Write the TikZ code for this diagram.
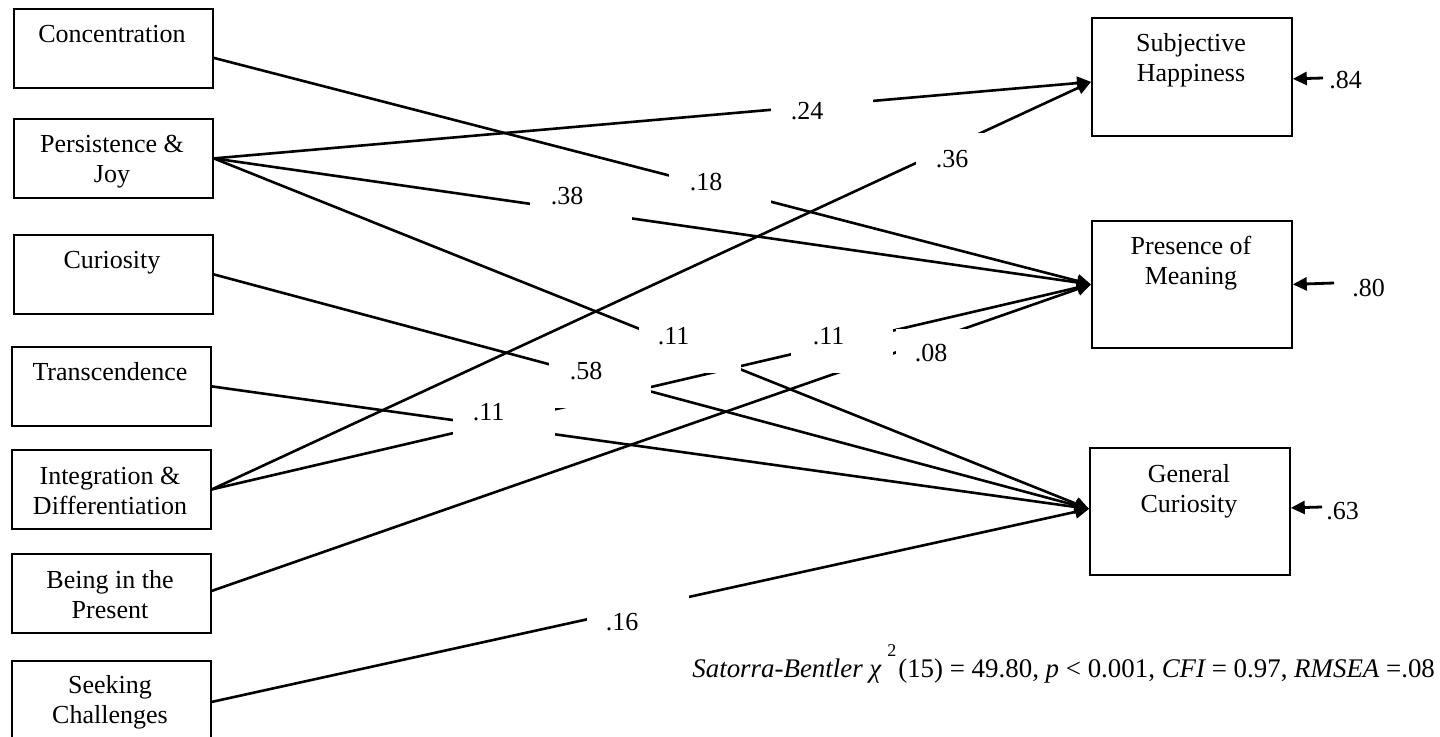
\documentclass[tikz,border=0pt]{standalone}
\usepackage{fontspec}
\setmainfont{Liberation Serif}
\usetikzlibrary{arrows.meta}
\begin{document}
\begin{tikzpicture}[x=0.5pt,y=-0.5pt,
  font=\fontsize{13pt}{15pt}\selectfont,
  varbox/.style={draw, line width=0.9pt, inner sep=0pt, anchor=north west},
  leftbox/.style={varbox, minimum width=99.5pt, minimum height=39.5pt},
  rightbox/.style={varbox, minimum width=100pt},
  vartext/.style={inner sep=0pt, anchor=base},
  path/.style={line width=1.3pt, -{Triangle[length=7pt,width=6.5pt]}},
  errpath/.style={line width=1.4pt, -{Triangle[length=7pt,width=6.5pt]}},
  coefbg/.style={fill=white, inner sep=0pt, minimum width=51pt, minimum height=31.5pt, anchor=north west},
  coeftext/.style={inner sep=0pt, anchor=base west}]
\useasboundingbox (0,0) rectangle (1440,737);

% predictors
\node[leftbox] (conc)  at (13,8)   {};
\node[leftbox] (pers)  at (13,118) {};
\node[leftbox] (cur)   at (13,234) {};
\node[leftbox] (trans) at (11,346) {};
\node[leftbox] (integ) at (11,449) {};
\node[leftbox] (being) at (11,553) {};
\node[leftbox, minimum height=41pt] (seek) at (11,660) {};

\node[vartext] (conc-t)  at (112,43)  {\parbox[t]{95pt}{\centering Concentration}};
\node[vartext] (pers-t)  at (112,153) {\parbox[t]{95pt}{\centering Persistence \&\\ Joy}};
\node[vartext] (cur-t)   at (112,269) {\parbox[t]{95pt}{\centering Curiosity}};
\node[vartext] (trans-t) at (110,381) {\parbox[t]{95pt}{\centering Transcendence}};
\node[vartext] (integ-t) at (110,484) {\parbox[t]{95pt}{\centering Integration \&\\ Differentiation}};
\node[vartext] (being-t) at (110,588) {\parbox[t]{95pt}{\centering Being in the\\ Present}};
\node[vartext] (seek-t)  at (110,693) {\parbox[t]{95pt}{\centering Seeking\\ Challenges}};

% outcomes
\node[rightbox, minimum height=59pt]   (sh) at (1091,17)  {};
\node[rightbox, minimum height=63.5pt] (pm) at (1091,220) {};
\node[rightbox, minimum height=63.5pt] (gc) at (1089,447) {};

\node[vartext] (sh-t) at (1191,52)  {\parbox[t]{95pt}{\centering Subjective\\ Happiness}};
\node[vartext] (pm-t) at (1191,255) {\parbox[t]{95pt}{\centering Presence of\\ Meaning}};
\node[vartext] (gc-t) at (1189,482) {\parbox[t]{95pt}{\centering General\\ Curiosity}};

% paths
\draw[path] ([yshift=-4.75pt]conc.east) -- (pm.west);
\draw[path] (pers.east) -- ([yshift=-2.5pt]sh.west);
\draw[path] (pers.east) -- (pm.west);
\draw[path] (pers.east) -- ([yshift=1.25pt]gc.west);
\draw[path] (cur.east) -- ([yshift=1.25pt]gc.west);
\draw[path] (trans.east) -- ([yshift=1.25pt]gc.west);
\draw[path] (integ.east) -- ([yshift=-2.5pt]sh.west);
\draw[path] (integ.east) -- (pm.west);
\draw[path] ([yshift=1.25pt]being.east) -- (pm.west);
\draw[path] (seek.east) -- ([yshift=1.25pt]gc.west);

% residuals
\coordinate (sh-e) at (1323,78);
\coordinate (pm-e) at (1334,283);
\coordinate (gc-e) at (1322,507);
\draw[errpath] (sh-e) -- ([yshift=-1pt]sh.east);
\draw[errpath] (pm-e) -- (pm.east);
\draw[errpath] (gc-e) -- ([yshift=1.75pt]gc.east);
\node[coeftext] (sh-r) at (1329,89)  {.84};
\node[coeftext] (pm-r) at (1352,297) {.80};
\node[coeftext] (gc-r) at (1326,519) {.63};

% path coefficients on white panels
\node[coefbg] (b24)  at (771,85)  {};  \node[coeftext] (t24)  at (790.5,120) {.24};
\node[coefbg] (b18)  at (669,156) {};  \node[coeftext] (t18)  at (689.5,191) {.18};
\node[coefbg] (b38)  at (530,170) {};  \node[coeftext] (t38)  at (550.5,205) {.38};
\node[coefbg] (b36)  at (916,133) {};  \node[coeftext] (t36)  at (935.5,168) {.36};
\node[coefbg] (b11a) at (639,310) {};  \node[coeftext] (t11a) at (657.5,345) {.11};
\node[coefbg] (b11b) at (791,310) {};  \node[coeftext] (t11b) at (812.5,345) {.11};
\node[coefbg] (b08)  at (896,329) {};  \node[coeftext] (t08)  at (914.5,362) {.08};
\node[coefbg] (b58)  at (549,345) {};  \node[coeftext] (t58)  at (569.5,380) {.58};
\node[coefbg] (b11c) at (453,386) {};  \node[coeftext] (t11c) at (472.5,421) {.11};
\node[coefbg] (b16)  at (587,595) {};  \node[coeftext] (t16)  at (605.5,630) {.16};

% fit statistics
\node[coeftext, font=\fontsize{13.45pt}{15pt}\selectfont] (fit) at (692,677) {\itshape Satorra-Bentler χ\hspace{3pt}\raisebox{10.5pt}{\upshape\fontsize{9pt}{9pt}\selectfont 2}\hspace{1pt}\upshape(15) = 49.80, {\itshape p} < 0.001, {\itshape CFI} = 0.97, {\itshape RMSEA} =.08};
\end{tikzpicture}
\end{document}
